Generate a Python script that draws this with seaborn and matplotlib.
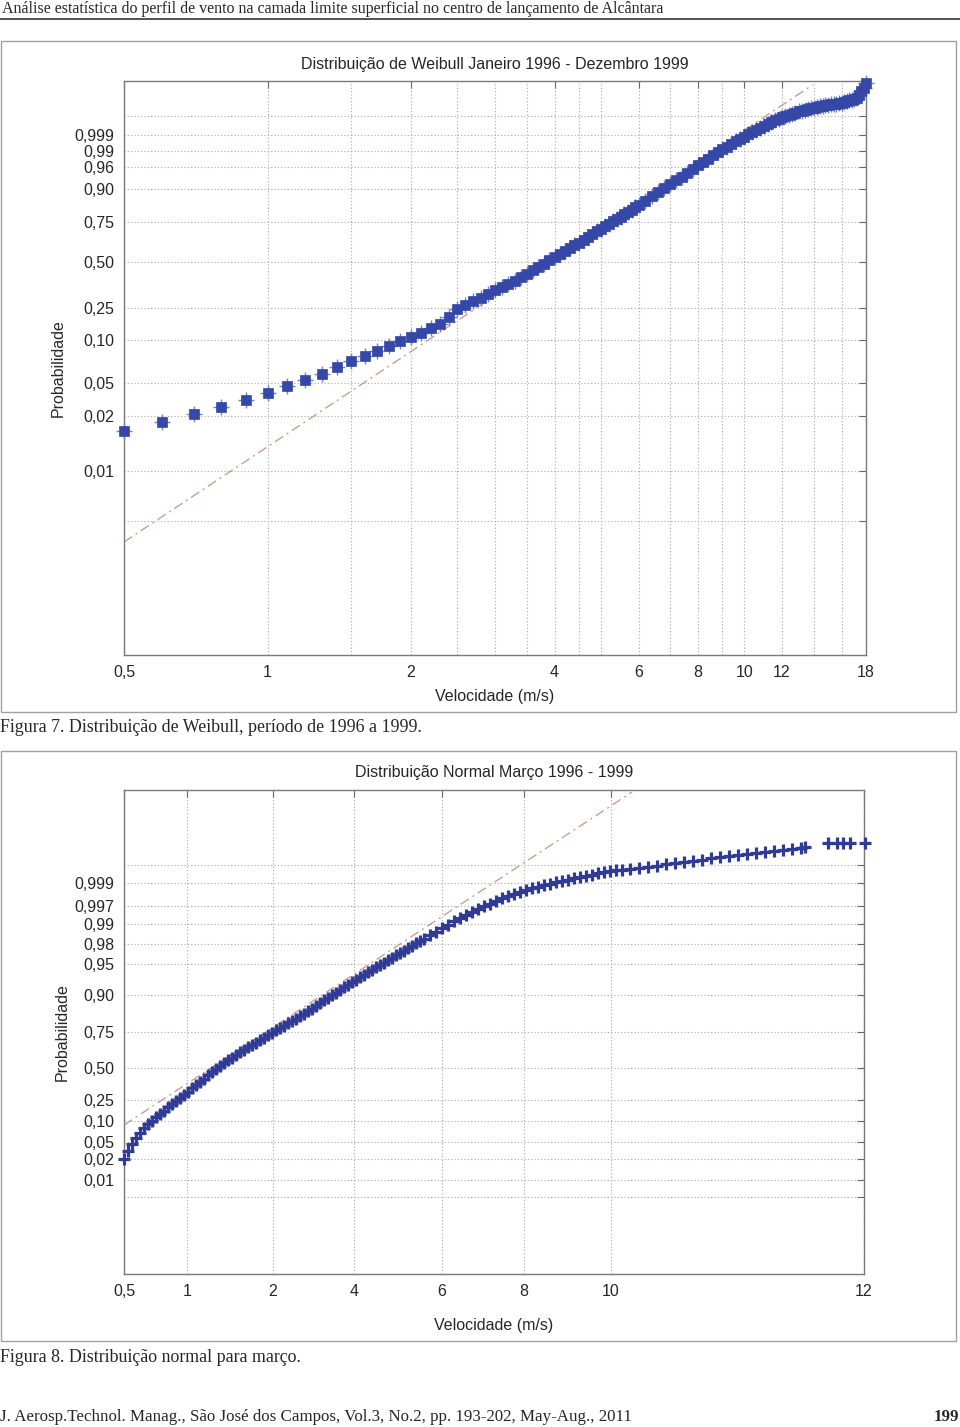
import numpy as np
import matplotlib
matplotlib.use("Agg")
import matplotlib.pyplot as plt
import seaborn as sns
from matplotlib.patches import Rectangle
from matplotlib.lines import Line2D
from matplotlib.ticker import FixedLocator, NullFormatter

# -------------------------------------------------------------------------
# Data
# y values are positions on the probability paper (linear paper units)
# -------------------------------------------------------------------------
header = ("Análise estatística do perfil de vento na camada limite superficial "
          "no centro de lançamento de Alcântara")
title_weib = "Distribuição de Weibull Janeiro 1996 - Dezembro 1999"
title_norm = "Distribuição Normal Março 1996 - 1999"
caption_weib = "Figura 7. Distribuição de Weibull, período de 1996 a 1999."
caption_norm = "Figura 8. Distribuição normal para março."
footer = ("J. Aerosp.Technol. Manag., São José dos Campos, Vol.3, No.2, "
          "pp. 193-202, May-Aug., 2011")
page_no = "199"

# Weibull plot: wind speed (m/s) vs paper position
weib_v = [0.5, 0.6, 0.7, 0.8, 0.9, 1.0, 1.1, 1.2, 1.3, 1.4, 1.5, 1.6, 1.7, 1.8, 1.9,
          2.0, 2.1, 2.2, 2.3, 2.4, 2.5, 2.6, 2.7, 2.8, 2.9, 3.0, 3.1, 3.2, 3.3, 3.4,
          3.5, 3.6, 3.7, 3.8, 3.9, 4.0, 4.1, 4.2, 4.3, 4.4, 4.5, 4.6, 4.7, 4.8, 4.9,
          5.0, 5.1, 5.2, 5.3, 5.4, 5.5, 5.6, 5.7, 5.8, 5.9, 6.0, 6.2, 6.4, 6.6, 6.8,
          7.0, 7.2, 7.4, 7.6, 7.8, 8.0, 8.2, 8.4, 8.6, 8.8, 9.0, 9.2, 9.4, 9.6, 9.8,
          10.0, 10.2, 10.4, 10.6, 10.8, 11.0, 11.2, 11.4, 11.6, 11.8, 12.0, 12.2,
          12.4, 12.6, 12.8, 13.0, 13.2, 13.4, 13.6, 13.8, 14.0, 14.2, 14.4, 14.6,
          14.8, 15.0, 15.2, 15.4, 15.6, 15.8, 16.0, 16.2, 16.4, 16.6, 16.8, 17.0,
          17.2, 17.4, 17.6, 17.8, 18.0]
weib_y = [224, 233, 241, 248, 255, 262, 269, 275, 281, 288, 294, 299, 304, 309, 314,
          318, 322, 327, 331, 338, 346, 350.5, 354, 357.4, 361.1, 364.6, 368, 371.2,
          374.4, 377.6, 381.2, 384.7, 388.1, 391.4, 394.6, 397.8, 400.9, 403.9, 406.8,
          409.6, 412.4, 415.3, 418.3, 421.1, 423.9, 426.5, 429, 431.4, 433.8, 436.1,
          438.4, 440.8, 443.2, 445.5, 447.8, 450.1, 454.5, 458.8, 463, 467, 470.9,
          474.7, 478.5, 482.3, 486.1, 489.7, 493.1, 496.4, 499.6, 502.6, 505.6, 508.3,
          511, 513.6, 516.1, 518.4, 520.7, 522.9, 525.1, 527.2, 529.1, 531, 532.8,
          534.6, 536.4, 537.8, 539, 540.2, 541.3, 542.4, 543.6, 544.5, 545.2, 546,
          546.8, 547.5, 548.2, 549, 549.4, 549.8, 550.3, 550.7, 551.1, 551.5, 551.9,
          552.5, 553.2, 553.9, 554.6, 555.1, 555.8, 557, 560, 564, 567, 572]
weib_fit_v = [0.5, 13.9]
weib_fit_y = [113, 570]

weib_xticks = [0.5, 1, 2, 4, 6, 8, 10, 12, 18]
weib_xlabels = ["0,5", "1", "2", "4", "6", "8", "10", "12", "18"]
weib_xminor = [1.5, 2.5, 3, 3.5, 4.5, 5, 7, 9, 14, 16]
weib_yticks = [134, 184, 239, 272, 315, 347, 393, 433, 466, 488, 504, 520, 539]
weib_ylabels = ["", "0,01", "0,02", "0,05", "0,10", "0,25", "0,50", "0,75",
                "0,90", "0,96", "0,99", "0,999", ""]

# Normal plot: both axes in paper units
norm_x = [0, 4, 8, 12, 16, 20, 24, 28, 32, 36, 40, 44, 48, 52, 56, 60, 64, 68, 72, 76,
          80, 84, 88, 92, 96, 100, 104, 108, 112, 116, 120, 124, 128, 132, 136, 140,
          144, 148, 152, 156, 160, 164, 168, 172, 176, 180, 184, 188, 192, 196, 200,
          204, 208, 212, 216, 220, 224, 228, 232, 236, 240, 244, 248, 252, 256, 260,
          264, 268, 272, 276, 280, 284, 288, 292, 296, 300, 306, 312, 318, 324, 330,
          336, 342, 348, 354, 360, 366, 372, 378, 384, 390, 396, 402, 408, 414, 420,
          426, 432, 438, 444, 450, 456, 462, 468, 474, 480, 486, 492, 498, 506, 515,
          524, 533, 542, 551, 560, 569, 578, 587, 596, 605, 614, 623, 632, 641, 650,
          659, 668, 677, 681, 704, 713, 719, 726, 741]
norm_y = [115, 123, 130, 136, 141, 146, 150, 153, 157, 160, 163, 167, 170, 173, 176,
          179, 182, 186, 189, 192, 195, 199, 202, 205, 208, 211, 214, 216, 219, 222,
          224, 227, 229, 231, 234, 236, 239, 241, 244, 246, 248, 251, 253, 255, 258,
          260, 263, 265, 268, 271, 274, 276, 279, 281, 284, 287, 289, 292, 294, 297,
          299, 302, 304, 307, 309, 311, 314, 316, 319, 321, 323, 326, 328, 331, 333,
          335, 339, 342, 346, 349, 353, 356, 359, 362, 365, 368, 370, 373, 376, 378,
          380, 382, 384, 386, 387, 389, 390, 392, 393, 394, 396, 397, 398, 399, 401,
          402, 403, 404, 404, 405, 406, 407, 408, 410, 411, 412, 413, 414, 416, 417,
          418, 419, 420, 421, 422, 423, 424, 425, 426, 427, 431, 431, 431, 431, 431]
norm_fit_x = [0, 508]
norm_fit_y = [149, 482]

norm_xticks = [0, 63, 149, 230, 318, 400, 487, 740]
norm_xlabels = ["0,5", "1", "2", "4", "6", "8", "10", "12"]
norm_yticks = [77, 94, 115, 132, 153, 174, 206, 242, 279, 310, 330, 350, 368, 391, 409]
norm_ylabels = ["", "0,01", "0,02", "0,05", "0,10", "0,25", "0,50", "0,75", "0,90",
                "0,95", "0,98", "0,99", "0,997", "0,999", ""]

# -------------------------------------------------------------------------
# Figure
# -------------------------------------------------------------------------
sns.set_style("white")
plt.rcParams['font.family'] = ['Liberation Sans', 'DejaVu Sans']
serif = ['Liberation Serif', 'DejaVu Serif']
FS = 11.5

W, H = 960, 1427
fig = plt.figure(figsize=(W / 100, H / 100), dpi=100)


def fy(px):
    return 1 - px / H


def style_axes(ax):
    ax.set_axisbelow(True)
    ax.grid(True, which='both', linestyle=(0, (1, 2)), color='#a8a8a8', lw=0.8)
    ax.tick_params(which='major', direction='in', length=5, top=True, right=True,
                   labelsize=FS, color='#666666', pad=7)
    ax.tick_params(which='minor', length=0)
    for s in ax.spines.values():
        s.set_color('#7a7a7a')
        s.set_linewidth(1.0)
    ax.set_ylabel("Probabilidade", fontsize=FS)
    ax.set_xlabel("Velocidade (m/s)", fontsize=FS)


# ---- Weibull panel
ax1 = fig.add_axes([124 / W, fy(655), 742 / W, 574 / H])
ax1.set_xscale('log')
sns.scatterplot(x=weib_v, y=weib_y, marker='+', s=130, color='#6f80ca',
                linewidth=1.0, ax=ax1, legend=False, clip_on=False, zorder=3)
sns.scatterplot(x=weib_v, y=weib_y, marker='s', s=52, color='#3548a8',
                edgecolor='#3548a8', linewidth=0.5, ax=ax1, legend=False,
                clip_on=False, zorder=4)
ax1.plot(weib_fit_v, weib_fit_y, color='#c79c9c', lw=1.0,
         dashes=(7, 3, 1.5, 3), zorder=2)
ax1.set_xlim(0.5, 18)
ax1.set_ylim(0, 574)
ax1.xaxis.set_major_locator(FixedLocator(weib_xticks))
ax1.set_xticklabels(weib_xlabels)
ax1.xaxis.set_minor_locator(FixedLocator(weib_xminor))
ax1.xaxis.set_minor_formatter(NullFormatter())
ax1.set_yticks(weib_yticks)
ax1.set_yticklabels(weib_ylabels)
style_axes(ax1)
ax1.set_title(title_weib, fontsize=FS, pad=9)
ax1.xaxis.labelpad = 7
ax1.yaxis.labelpad = 6

# ---- Normal panel
ax2 = fig.add_axes([124 / W, fy(1274), 740 / W, 484 / H])
ax2.plot(norm_fit_x, norm_fit_y, color='#c79c9c', lw=1.0,
         dashes=(7, 3, 1.5, 3), zorder=2)
sns.scatterplot(x=norm_x, y=norm_y, marker='+', s=85, color='#2f3b96',
                linewidth=2.3, ax=ax2, legend=False, clip_on=False, zorder=3)
ax2.set_xlim(0, 740)
ax2.set_ylim(0, 484)
ax2.set_xticks(norm_xticks)
ax2.set_xticklabels(norm_xlabels)
ax2.set_yticks(norm_yticks)
ax2.set_yticklabels(norm_ylabels)
style_axes(ax2)
ax2.set_title(title_norm, fontsize=FS, pad=9)
ax2.xaxis.labelpad = 14
ax2.yaxis.labelpad = 3.5

# ---- page decorations
fig.text(2 / W, fy(9), header, family=serif, fontsize=11.5, va='center', ha='left')
fig.add_artist(Line2D([0, 1], [fy(19), fy(19)], transform=fig.transFigure,
                      color='#333333', lw=1.2))
fig.add_artist(Rectangle((0.5 / W, fy(712)), 955 / W, 671 / H, transform=fig.transFigure,
                         fill=False, ec='#a0a0a0', lw=1.0))
fig.add_artist(Rectangle((0.5 / W, fy(1341)), 955 / W, 590 / H, transform=fig.transFigure,
                         fill=False, ec='#a0a0a0', lw=1.0))
fig.text(0, fy(727), caption_weib, family=serif, fontsize=12.9, va='center', ha='left')
fig.text(0, fy(1357), caption_norm, family=serif, fontsize=12.9, va='center', ha='left')
fig.text(0, fy(1417), footer, family=serif, fontsize=12.2, va='center', ha='left')
fig.text(959 / W, fy(1417), page_no, family=serif, fontsize=12.2, weight='bold',
         va='center', ha='right')

fig.savefig("out.png", dpi=100)
